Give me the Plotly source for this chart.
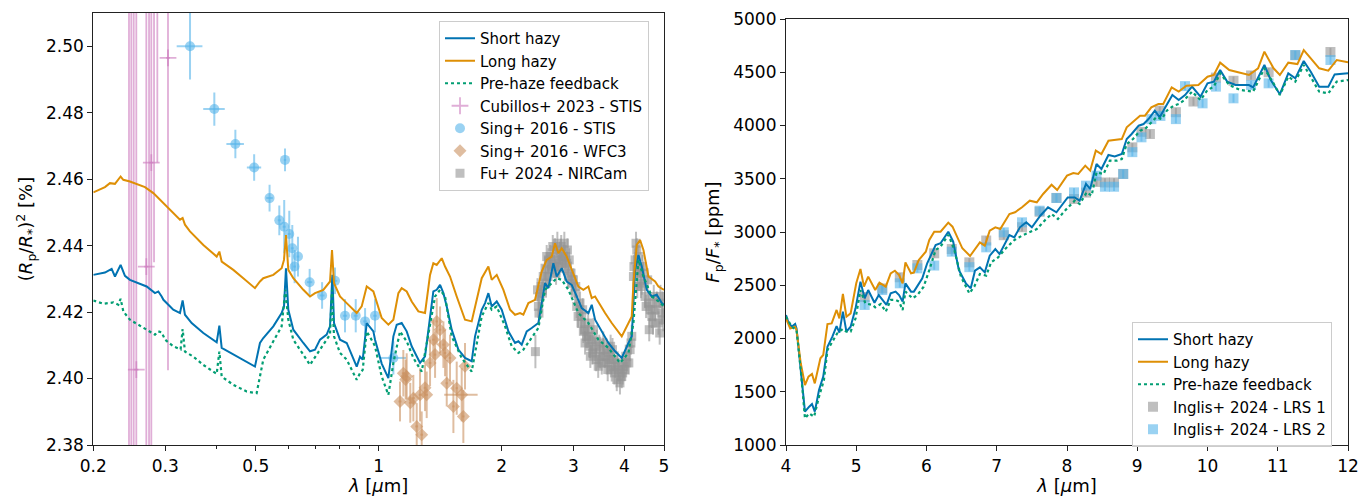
import plotly.graph_objects as go

# ---------------- Left panel: transmission ----------------
short_wl = [0.2000, 0.2136, 0.2218, 0.2260, 0.2333, 0.2391, 0.2459, 0.2702, 0.2832, 0.2886, 0.2941, 0.2970,
            0.3140, 0.3261, 0.3310, 0.3354, 0.3483, 0.3720, 0.4011, 0.4072, 0.4126, 0.4406, 0.4661, 0.4978,
            0.5120, 0.5217, 0.5520, 0.5786, 0.5863, 0.5929, 0.6008, 0.6180, 0.6539, 0.6790, 0.6984, 0.7184,
            0.7459, 0.7601, 0.7702, 0.7774, 0.8042, 0.8351, 0.8836, 0.9003, 0.9140, 0.9349, 0.9707, 0.9798,
            1.0173, 1.0563, 1.0866, 1.1072, 1.1388, 1.1714, 1.2049, 1.2630, 1.2990, 1.3362, 1.3614, 1.3876,
            1.4139, 1.4408, 1.4682, 1.5098, 1.5678, 1.6277, 1.6902, 1.7223, 1.7884, 1.8223, 1.8569, 1.8922,
            1.9464, 2.0020, 2.0788, 2.1583, 2.1992, 2.2409, 2.3050, 2.3709, 2.4617, 2.5083, 2.5559, 2.6044,
            2.6789, 2.7299, 2.8081, 2.8884, 2.9710, 3.0561, 3.1435, 3.2639, 3.3264, 3.3896, 3.5194, 3.6544,
            3.7945, 3.9399, 4.0911, 4.1689, 4.2478, 4.3286, 4.4107, 4.5370, 4.6666, 4.8004, 4.9379, 5.0]
short_td = [2.4312, 2.4319, 2.4330, 2.4307, 2.4342, 2.4309, 2.4297, 2.4277, 2.4257, 2.4262, 2.4247, 2.4237,
            2.4207, 2.4197, 2.4235, 2.4192, 2.4167, 2.4137, 2.4109, 2.4159, 2.4092, 2.4072, 2.4057, 2.4036,
            2.4107, 2.4122, 2.4157, 2.4197, 2.4217, 2.4332, 2.4207, 2.4147, 2.4107, 2.4082, 2.4087, 2.4117,
            2.4132, 2.4157, 2.4312, 2.4167, 2.4117, 2.4107, 2.4036, 2.4066, 2.4057, 2.4167, 2.4142, 2.4117,
            2.4045, 2.4001, 2.4127, 2.4162, 2.4167, 2.4142, 2.4097, 2.4047, 2.4067, 2.4187, 2.4262, 2.4267,
            2.4282, 2.4257, 2.4217, 2.4147, 2.4087, 2.4062, 2.4052, 2.4127, 2.4207, 2.4227, 2.4257, 2.4217,
            2.4232, 2.4207, 2.4142, 2.4107, 2.4112, 2.4102, 2.4142, 2.4152, 2.4167, 2.4227, 2.4287, 2.4272,
            2.4347, 2.4307, 2.4332, 2.4292, 2.4282, 2.4247, 2.4212, 2.4197, 2.4222, 2.4177, 2.4142, 2.4107,
            2.4082, 2.4062, 2.4107, 2.4127, 2.4327, 2.4372, 2.4337, 2.4267, 2.4247, 2.4252, 2.4227, 2.4222]

long_wl = [0.2000, 0.2077, 0.2136, 0.2197, 0.2260, 0.2333, 0.2369, 0.2459, 0.2677, 0.2806, 0.2913, 0.3082,
           0.3261, 0.3310, 0.3354, 0.3450, 0.3720, 0.4011, 0.4072, 0.4126, 0.4406, 0.4661, 0.4978, 0.5120,
           0.5217, 0.5520, 0.5786, 0.5863, 0.5929, 0.6008, 0.6180, 0.6539, 0.6790, 0.6984, 0.7320, 0.7601,
           0.7687, 0.7774, 0.8042, 0.8351, 0.8836, 0.9088, 0.9349, 0.9707, 1.0173, 1.0563, 1.0866, 1.1177,
           1.1388, 1.1714, 1.2049, 1.2512, 1.2990, 1.3362, 1.3614, 1.3876, 1.4273, 1.4544, 1.4957, 1.5531,
           1.6277, 1.6902, 1.7884, 1.8569, 1.8922, 1.9464, 2.0211, 2.0985, 2.1583, 2.2199, 2.2621, 2.3268,
           2.4158, 2.5083, 2.5800, 2.6538, 2.7044, 2.7557, 2.8081, 2.8884, 2.9710, 3.0849, 3.1732, 3.2639,
           3.3264, 3.3896, 3.5862, 3.7236, 3.9399, 4.0911, 4.1689, 4.2081, 4.2880, 4.3695, 4.4523, 4.5799,
           4.7555, 4.8459, 5.0]
long_td = [2.4560, 2.4570, 2.4576, 2.4588, 2.4586, 2.4608, 2.4598, 2.4593, 2.4576, 2.4558, 2.4538, 2.4508,
           2.4478, 2.4483, 2.4463, 2.4443, 2.4402, 2.4367, 2.4382, 2.4352, 2.4327, 2.4302, 2.4272, 2.4292,
           2.4302, 2.4312, 2.4332, 2.4357, 2.4432, 2.4327, 2.4302, 2.4267, 2.4247, 2.4257, 2.4267, 2.4292,
           2.4387, 2.4287, 2.4247, 2.4227, 2.4197, 2.4217, 2.4277, 2.4262, 2.4182, 2.4162, 2.4177, 2.4257,
           2.4272, 2.4262, 2.4232, 2.4202, 2.4197, 2.4312, 2.4347, 2.4342, 2.4362, 2.4337, 2.4307, 2.4247,
           2.4177, 2.4172, 2.4302, 2.4337, 2.4297, 2.4312, 2.4267, 2.4207, 2.4192, 2.4197, 2.4192, 2.4227,
           2.4237, 2.4322, 2.4357, 2.4367, 2.4407, 2.4377, 2.4392, 2.4367, 2.4327, 2.4277, 2.4267, 2.4277,
           2.4242, 2.4247, 2.4197, 2.4167, 2.4127, 2.4167, 2.4187, 2.4287, 2.4402, 2.4417, 2.4387, 2.4307,
           2.4292, 2.4277, 2.4267]

pre_wl = [0.2000, 0.2116, 0.2239, 0.2303, 0.2333, 0.2369, 0.2459, 0.2652, 0.2832, 0.2886, 0.2941, 0.2997,
          0.3140, 0.3273, 0.3310, 0.3354, 0.3516, 0.3720, 0.4011, 0.4072, 0.4126, 0.4406, 0.4750, 0.5025,
          0.5120, 0.5217, 0.5520, 0.5786, 0.5863, 0.5907, 0.6008, 0.6180, 0.6539, 0.6790, 0.7184, 0.7601,
          0.7687, 0.7774, 0.8042, 0.8351, 0.8836, 0.9003, 0.9140, 0.9349, 0.9707, 0.9798, 1.0173, 1.0563,
          1.0866, 1.1281, 1.1714, 1.2162, 1.2749, 1.3362, 1.3747, 1.4139, 1.4544, 1.5098, 1.5975, 1.6902,
          1.7884, 1.8569, 1.8922, 1.9464, 2.0401, 2.1183, 2.1992, 2.2621, 2.3709, 2.4617, 2.5559, 2.6538,
          2.7299, 2.8081, 2.9158, 3.0849, 3.2639, 3.4540, 3.6544, 3.9023, 4.0911, 4.2081, 4.3286, 4.4523,
          4.6666, 4.8459, 5.0]
pre_td = [2.4235, 2.4225, 2.4229, 2.4222, 2.4240, 2.4202, 2.4177, 2.4152, 2.4132, 2.4142, 2.4139, 2.4117,
          2.4097, 2.4088, 2.4149, 2.4081, 2.4066, 2.4041, 2.4014, 2.4081, 2.4006, 2.3981, 2.3961, 2.3956,
          2.4006, 2.4057, 2.4112, 2.4157, 2.4227, 2.4267, 2.4177, 2.4117, 2.4072, 2.4041, 2.4087, 2.4132,
          2.4267, 2.4127, 2.4077, 2.4057, 2.3996, 2.4016, 2.4026, 2.4142, 2.4107, 2.4097, 2.4006, 2.3951,
          2.4047, 2.4142, 2.4112, 2.4062, 2.4021, 2.4167, 2.4247, 2.4267, 2.4247, 2.4127, 2.4062, 2.4021,
          2.4187, 2.4227, 2.4207, 2.4217, 2.4157, 2.4097, 2.4077, 2.4087, 2.4122, 2.4152, 2.4267, 2.4287,
          2.4302, 2.4297, 2.4267, 2.4197, 2.4167, 2.4117, 2.4092, 2.4047, 2.4077, 2.4167, 2.4357, 2.4307,
          2.4247, 2.4232, 2.4217]

cub_wl = [0.2446, 0.2478, 0.2512, 0.2549, 0.2697, 0.2739, 0.2774, 0.2817, 0.2870, 0.3048]
cub_td = [2.55, 2.52, 2.56, 2.4027, 2.4337, 2.53, 2.4650, 2.53, 2.53, 2.4965]
cub_err = [0.20, 0.20, 0.20, 0.15, 0.12, 0.20, 0.12, 0.095, 0.065, 0.094]
cub_xerr = [0.003] * 10

sstis_wl = [0.3451, 0.3958, 0.4457, 0.4955, 0.5405, 0.5710, 0.5870, 0.5897, 0.6040, 0.6144, 0.6225,
            0.6344, 0.6776, 0.7269, 0.7819, 0.8271, 0.8788, 0.9263, 0.9796, 1.0866]
sstis_td = [2.5000, 2.4811, 2.4706, 2.4635, 2.4543, 2.4476, 2.4457, 2.4658, 2.4435, 2.4392, 2.4337,
            2.4367, 2.4290, 2.4250, 2.4294, 2.4189, 2.4189, 2.4172, 2.4189, 2.4062]
sstis_err = [0.010, 0.005, 0.0043, 0.004, 0.004, 0.0045, 0.008, 0.0034, 0.007, 0.007, 0.005,
             0.006, 0.004, 0.004, 0.004, 0.005, 0.005, 0.004, 0.005, 0.005]
sstis_xerr = [0.025, 0.024, 0.022, 0.020, 0.010, 0.005, 0.005, 0.004, 0.005, 0.005, 0.005,
              0.005, 0.010, 0.010, 0.010, 0.010, 0.010, 0.010, 0.010, 0.080]

swfc_wl = [1.1279, 1.1494, 1.1645, 1.1714, 1.1954, 1.2162, 1.2395, 1.2630, 1.2749, 1.2990, 1.3113,
           1.3362, 1.3614, 1.3747, 1.3876, 1.4139, 1.4408, 1.4544, 1.4682, 1.4957, 1.5244, 1.5531,
           1.5975, 1.6125, 1.6277]
swfc_td = [2.3931, 2.4016, 2.3997, 2.4006, 2.3927, 2.3941, 2.3856, 2.3951, 2.3831, 2.3972, 2.3951,
           2.4047, 2.4117, 2.4072, 2.4172, 2.4147, 2.4102, 2.4077, 2.3986, 2.4062, 2.3916, 2.3971,
           2.3951, 2.3886, 2.4037]
swfc_err = [0.006, 0.007, 0.006, 0.007, 0.006, 0.007, 0.007, 0.008, 0.007, 0.007, 0.007,
            0.007, 0.006, 0.007, 0.007, 0.007, 0.007, 0.007, 0.007, 0.007, 0.008, 0.008,
            0.008, 0.008, 0.007]
swfc_xerr = [0.01] * 22 + [0.15, 0.01, 0.01]

fu_wl = [2.421, 2.450, 2.462, 2.480, 2.530, 2.556, 2.600, 2.604, 2.630, 2.654, 2.704, 2.730, 2.756,
         2.782, 2.808, 2.834, 2.861, 2.888, 2.900, 2.916, 2.971, 3.028, 3.056, 3.114, 3.144, 3.173,
         3.200, 3.203, 3.264, 3.295, 3.300, 3.326, 3.390, 3.422, 3.450, 3.486, 3.550, 3.553, 3.620,
         3.654, 3.700, 3.724, 3.759, 3.800, 3.831, 3.867, 3.940, 3.977, 4.053, 4.130, 4.169, 4.208,
         4.248, 4.288, 4.300, 4.329, 4.370, 4.411, 4.450, 4.494, 4.580, 4.600, 4.667, 4.756, 4.846,
         4.900, 4.938, 4.980,
         2.47, 2.50, 2.52, 2.57, 2.58, 2.62, 2.67, 2.69, 2.72, 2.74, 2.77, 2.80, 2.85, 2.87, 2.93,
         2.96, 3.00, 3.04, 3.08, 3.13, 3.16, 3.23, 3.26, 3.34, 3.36, 3.41, 3.47, 3.52, 3.58, 3.64,
         3.68, 3.74, 3.78, 3.85, 3.90, 3.96, 4.00, 4.03, 4.10, 4.15, 4.22, 4.27, 4.32, 4.39, 4.43,
         4.52, 4.56, 4.63, 4.70, 4.72, 4.80, 4.88, 4.96]
fu_td = [2.4081, 2.4267, 2.4217, 2.4247, 2.4307, 2.4332, 2.4307, 2.4357, 2.4367, 2.4342, 2.4387, 2.4357,
         2.4337, 2.4377, 2.4357, 2.4367, 2.4332, 2.4347, 2.4387, 2.4307, 2.4287, 2.4257, 2.4217, 2.4227,
         2.4187, 2.4142, 2.4147, 2.4107, 2.4127, 2.4097, 2.4067, 2.4117, 2.4087, 2.4112, 2.4037, 2.4066,
         2.4107, 2.4087, 2.4047, 2.4077, 2.4097, 2.4026, 2.4057, 2.4037, 2.3997, 2.4026, 2.4006, 2.4036,
         2.4047, 2.4087, 2.4127, 2.4307, 2.4357, 2.4387, 2.4277, 2.4367, 2.4317, 2.4287, 2.4317, 2.4247,
         2.4227, 2.4147, 2.4187, 2.4207, 2.4167, 2.4247, 2.4197, 2.4177,
         2.4197, 2.4277, 2.4257, 2.4287, 2.4367, 2.4327, 2.4397, 2.4337, 2.4317, 2.4407, 2.4347, 2.4397,
         2.4407, 2.4367, 2.4357, 2.4317, 2.4297, 2.4277, 2.4187, 2.4167, 2.4207, 2.4127, 2.4167, 2.4077,
         2.4147, 2.4057, 2.4097, 2.4047, 2.4067, 2.4027, 2.4057, 2.4087, 2.4017, 2.4047, 2.3987, 2.4017,
         2.4027, 2.4067, 2.4047, 2.4107, 2.4337, 2.4407, 2.4327, 2.4277, 2.4337, 2.4217, 2.4297, 2.4207,
         2.4167, 2.4247, 2.4227, 2.4137, 2.4227]
fu_err = [0.005] + [0.0035] * 120

# ---------------- Right panel: emission ----------------
e_short_wl = [4.00, 4.03, 4.08, 4.13, 4.15, 4.21, 4.27, 4.33, 4.37, 4.41, 4.47, 4.53, 4.59, 4.66, 4.72,
              4.76, 4.81, 4.86, 4.92, 4.99, 5.06, 5.12, 5.17, 5.26, 5.32, 5.43, 5.49, 5.56, 5.61, 5.66,
              5.70, 5.78, 5.82, 5.94, 6.01, 6.13, 6.20, 6.31, 6.38, 6.46, 6.56, 6.63, 6.69, 6.76, 6.83,
              6.90, 6.98, 7.04, 7.10, 7.18, 7.25, 7.33, 7.42, 7.50, 7.62, 7.73, 7.85, 7.92, 8.01, 8.11,
              8.18, 8.27, 8.33, 8.42, 8.49, 8.59, 8.68, 8.78, 8.85, 8.92, 9.02, 9.09, 9.16, 9.25, 9.32,
              9.40, 9.50, 9.59, 9.68, 9.78, 9.90, 10.00, 10.09, 10.18, 10.28, 10.40, 10.59, 10.65, 10.81,
              10.90, 11.03, 11.15, 11.25, 11.37, 11.47, 11.59, 11.72, 11.81, 12.0]
e_short = [2221, 2158, 2111, 2136, 2095, 1736, 1313, 1360, 1385, 1313, 1516, 1642, 1923, 2017, 2117,
           2055, 2252, 2064, 2111, 2283, 2534, 2377, 2455, 2336, 2408, 2315, 2424, 2440, 2408, 2346,
           2518, 2440, 2440, 2565, 2706, 2878, 2894, 3003, 2909, 2643, 2518, 2471, 2637, 2668, 2621,
           2778, 2840, 2793, 2872, 2972, 2950, 3044, 3091, 3044, 3153, 3232, 3185, 3247, 3325, 3325,
           3294, 3451, 3404, 3638, 3592, 3723, 3710, 3732, 3873, 3920, 3998, 4014, 4061, 4139, 4077,
           4171, 4286, 4239, 4286, 4365, 4271, 4396, 4412, 4521, 4412, 4380, 4380, 4358, 4568,
           4427, 4293, 4490, 4443, 4606, 4505, 4365, 4365, 4480, 4490]

e_long_wl = [4.00, 4.06, 4.13, 4.15, 4.21, 4.27, 4.32, 4.37, 4.41, 4.49, 4.53, 4.59, 4.65, 4.72, 4.76,
             4.81, 4.86, 4.92, 5.00, 5.06, 5.11, 5.17, 5.27, 5.33, 5.42, 5.49, 5.55, 5.61, 5.66, 5.70,
             5.78, 5.82, 5.89, 5.99, 6.04, 6.11, 6.20, 6.31, 6.37, 6.44, 6.51, 6.62, 6.68, 6.76, 6.83,
             6.90, 6.98, 7.05, 7.18, 7.26, 7.36, 7.47, 7.57, 7.66, 7.78, 7.86, 8.00, 8.09, 8.16, 8.26,
             8.33, 8.41, 8.49, 8.59, 8.67, 8.78, 8.85, 8.94, 9.04, 9.11, 9.20, 9.30, 9.37, 9.49, 9.59,
             9.70, 9.87, 10.00, 10.09, 10.18, 10.31, 10.59, 10.72, 10.81, 10.94, 11.03, 11.15, 11.28,
             11.37, 11.47, 11.59, 11.72, 11.84, 12.0]
e_long = [2189, 2095, 2111, 2080, 1767, 1563, 1642, 1667, 1579, 1814, 1845, 2136, 2142, 2268, 2189,
          2418, 2205, 2236, 2518, 2653, 2487, 2581, 2455, 2524, 2487, 2612, 2637, 2596, 2518, 2715,
          2612, 2618, 2737, 2815, 2925, 3003, 3003, 3088, 3050, 2941, 2847, 2775, 2831, 2903, 2872,
          3012, 3044, 3028, 3169, 3185, 3232, 3294, 3279, 3357, 3444, 3394, 3529, 3554, 3545, 3623,
          3576, 3764, 3732, 3857, 3864, 3873, 3983, 4036, 4092, 4092, 4171, 4202, 4202, 4358, 4318,
          4374, 4380, 4458, 4474, 4590, 4521, 4474, 4537, 4693, 4537, 4474, 4590, 4577,
          4709, 4631, 4537, 4515, 4615, 4593]

e_pre_wl = [4.00, 4.08, 4.15, 4.21, 4.27, 4.33, 4.40, 4.47, 4.54, 4.59, 4.66, 4.73, 4.81, 4.86, 4.92,
            4.99, 5.06, 5.13, 5.23, 5.27, 5.35, 5.42, 5.49, 5.56, 5.61, 5.66, 5.70, 5.80, 5.87, 5.96,
            6.04, 6.13, 6.20, 6.31, 6.39, 6.49, 6.61, 6.68, 6.76, 6.85, 6.92, 7.02, 7.12, 7.24, 7.36,
            7.47, 7.57, 7.68, 7.78, 7.87, 7.97, 8.11, 8.18, 8.28, 8.35, 8.42, 8.52, 8.61, 8.71, 8.78,
            8.85, 8.94, 9.04, 9.11, 9.18, 9.27, 9.35, 9.42, 9.52, 9.59, 9.66, 9.78, 9.90, 10.00, 10.09,
            10.18, 10.31, 10.47, 10.65, 10.81, 10.94, 11.03, 11.15, 11.25, 11.37, 11.47, 11.59, 11.72,
            11.84, 12.0]
e_pre = [2205, 2111, 2080, 1704, 1250, 1297, 1266, 1454, 1610, 1892, 1970, 2049, 2090, 2064, 2064,
         2189, 2455, 2330, 2315, 2293, 2324, 2252, 2362, 2362, 2346, 2268, 2440, 2377, 2408, 2487,
         2643, 2831, 2862, 2972, 2847, 2581, 2424, 2487, 2606, 2590, 2715, 2762, 2840, 2919, 2966,
         2997, 3028, 3106, 3169, 3122, 3200, 3294, 3263, 3372, 3341, 3560, 3545, 3670, 3670, 3685,
         3826, 3873, 3951, 3967, 4014, 4077, 4061, 4139, 4186, 4202, 4233, 4318, 4239, 4333, 4365,
         4490, 4380, 4333, 4318, 4537, 4396, 4286, 4458, 4412, 4568, 4458, 4318, 4302,
         4412, 4427]

lrs1_wl = [5.12, 5.37, 5.62, 5.87, 6.11, 6.36, 6.61, 6.85, 7.10, 7.36, 7.61, 7.85, 8.10, 8.27, 8.42,
           8.54, 8.67, 8.80, 8.93, 9.06, 9.18, 9.32, 9.55, 9.80, 10.12, 10.37, 10.62, 10.87, 11.25, 11.75]
lrs1_fp = [2390, 2470, 2575, 2690, 2800, 2840, 2715, 2920, 2970, 3045, 3190, 3320, 3310, 3370, 3470,
           3465, 3465, 3545, 3795, 3940, 3920, 4140, 4125, 4225, 4450, 4420, 4470, 4500, 4660, 4690]
lrs1_err = [40] * 30

lrs2_wl = [5.12, 5.37, 5.62, 5.87, 6.11, 6.36, 6.61, 6.85, 7.10, 7.36, 7.61, 7.85, 8.10, 8.27, 8.42,
           8.54, 8.67, 8.80, 8.93, 9.06, 9.20, 9.33, 9.55, 9.68, 9.93, 10.12, 10.37, 10.62, 10.87,
           11.25, 11.75]
lrs2_fp = [2315, 2455, 2518, 2659, 2685, 2815, 2670, 2856, 2997, 3091, 3200, 3319, 3372, 3435, 3529,
           3425, 3425, 3545, 3750, 3889, 4060, 4090, 4060, 4370, 4208, 4365, 4255, 4380, 4396,
           4662, 4615]
lrs2_err = [40] * 31

C_BLUE = '#0173B2'
C_ORANGE = '#DE8F05'
C_GREEN = '#029E73'
C_PINK = 'rgba(204,120,188,0.6)'
C_LBLUE = 'rgba(86,180,233,0.6)'
C_BROWN = 'rgba(202,145,97,0.6)'
C_GRAY = 'rgba(148,148,148,0.6)'

fig = go.Figure()

# data (left)
fig.add_trace(go.Scatter(x=cub_wl, y=cub_td, mode='markers', name='Cubillos+ 2023 - STIS',
                         marker=dict(symbol='cross-thin', size=12, line=dict(color=C_PINK, width=1.8), color=C_PINK),
                         error_y=dict(type='data', array=cub_err, color=C_PINK, thickness=1.8, width=0),
                         error_x=dict(type='data', array=cub_xerr, color=C_PINK, thickness=1.8, width=0),
                         xaxis='x', yaxis='y', legend='legend', legendrank=4))
fig.add_trace(go.Scatter(x=sstis_wl, y=sstis_td, mode='markers', name='Sing+ 2016 - STIS',
                         marker=dict(symbol='circle', size=10, color=C_LBLUE, line=dict(width=0)),
                         error_y=dict(type='data', array=sstis_err, color=C_LBLUE, thickness=2, width=0),
                         error_x=dict(type='data', array=sstis_xerr, color=C_LBLUE, thickness=2, width=0),
                         xaxis='x', yaxis='y', legend='legend', legendrank=5))
fig.add_trace(go.Scatter(x=swfc_wl, y=swfc_td, mode='markers', name='Sing+ 2016 - WFC3',
                         marker=dict(symbol='diamond', size=10, color=C_BROWN, line=dict(width=0)),
                         error_y=dict(type='data', array=swfc_err, color=C_BROWN, thickness=2, width=0),
                         error_x=dict(type='data', array=swfc_xerr, color=C_BROWN, thickness=2, width=0),
                         xaxis='x', yaxis='y', legend='legend', legendrank=6))
fig.add_trace(go.Scatter(x=fu_wl, y=fu_td, mode='markers', name='Fu+ 2024 - NIRCam',
                         marker=dict(symbol='square', size=9, color=C_GRAY, line=dict(width=0)),
                         error_y=dict(type='data', array=fu_err, color=C_GRAY, thickness=2, width=0),
                         xaxis='x', yaxis='y', legend='legend', legendrank=7))
# models (left)
fig.add_trace(go.Scatter(x=short_wl, y=short_td, mode='lines', name='Short hazy',
                         line=dict(color=C_BLUE, width=2), xaxis='x', yaxis='y', legend='legend', legendrank=1))
fig.add_trace(go.Scatter(x=long_wl, y=long_td, mode='lines', name='Long hazy',
                         line=dict(color=C_ORANGE, width=2), xaxis='x', yaxis='y', legend='legend', legendrank=2))
fig.add_trace(go.Scatter(x=pre_wl, y=pre_td, mode='lines', name='Pre-haze feedback',
                         line=dict(color=C_GREEN, width=2.2, dash='dot'), xaxis='x', yaxis='y',
                         legend='legend', legendrank=3))

# data (right)
fig.add_trace(go.Scatter(x=lrs1_wl, y=lrs1_fp, mode='markers', name='Inglis+ 2024 - LRS 1',
                         marker=dict(symbol='square', size=10, color=C_GRAY, line=dict(width=0)),
                         error_y=dict(type='data', array=lrs1_err, color=C_GRAY, thickness=2, width=0),
                         xaxis='x2', yaxis='y2', legend='legend2', legendrank=4))
fig.add_trace(go.Scatter(x=lrs2_wl, y=lrs2_fp, mode='markers', name='Inglis+ 2024 - LRS 2',
                         marker=dict(symbol='square', size=10, color=C_LBLUE, line=dict(width=0)),
                         error_y=dict(type='data', array=lrs2_err, color=C_LBLUE, thickness=2, width=0),
                         xaxis='x2', yaxis='y2', legend='legend2', legendrank=5))
fig.add_trace(go.Scatter(x=e_short_wl, y=e_short, mode='lines', name='Short hazy',
                         line=dict(color=C_BLUE, width=2), xaxis='x2', yaxis='y2', legend='legend2', legendrank=1))
fig.add_trace(go.Scatter(x=e_long_wl, y=e_long, mode='lines', name='Long hazy',
                         line=dict(color=C_ORANGE, width=2), xaxis='x2', yaxis='y2', legend='legend2', legendrank=2))
fig.add_trace(go.Scatter(x=e_pre_wl, y=e_pre, mode='lines', name='Pre-haze feedback',
                         line=dict(color=C_GREEN, width=2.2, dash='dot'), xaxis='x2', yaxis='y2',
                         legend='legend2', legendrank=3))

FONT = 'DejaVu Sans'
TICKF = dict(family=FONT, size=17, color='black')
TITLEF = dict(family=FONT, size=18, color='black')
axis_common = dict(showgrid=False, zeroline=False, showline=True, linecolor='#222', linewidth=1.2,
                   mirror=True, ticks='outside', ticklen=5, tickwidth=1.2, tickcolor='#222',
                   tickfont=TICKF, automargin=False)

W, H = 1370, 497
fig.update_layout(
    width=W, height=H, autosize=False,
    margin=dict(l=0, r=0, t=0, b=0, pad=0),
    paper_bgcolor='white', plot_bgcolor='white',
    font=dict(family=FONT, color='black'),
    xaxis=dict(type='log', range=[-0.69897, 0.69897],
               domain=[93.3 / W, 664 / W], anchor='y',
               tickvals=[0.2, 0.3, 0.5, 1, 2, 3, 4, 5], ticktext=['0.2', '0.3', '0.5', '1', '2', '3', '4', '5'],
               minor=dict(tickvals=[0.4, 0.6, 0.7, 0.8, 0.9], ticks='outside', ticklen=3, tickwidth=1, tickcolor='#222'),
               title=dict(text='<i>λ</i> [<i>μ</i>m]', font=TITLEF, standoff=4),
               **axis_common),
    yaxis=dict(range=[2.38, 2.51], domain=[(H - 445) / H, (H - 13) / H], anchor='x',
               tickvals=[2.38, 2.40, 2.42, 2.44, 2.46, 2.48, 2.50], tickformat='.2f',
               title=dict(text='(<i>R</i><sub>p</sub>/<i>R</i><sub>*</sub>)<sup>2</sup> [%]', font=TITLEF, standoff=8),
               **axis_common),
    xaxis2=dict(range=[4, 12], domain=[786 / W, 1348 / W], anchor='y2',
                tickvals=list(range(4, 13)),
                title=dict(text='<i>λ</i> [<i>μ</i>m]', font=TITLEF, standoff=4),
                **axis_common),
    yaxis2=dict(range=[1000, 5000], domain=[(H - 445) / H, (H - 19) / H], anchor='x2',
                tickvals=list(range(1000, 5001, 500)),
                title=dict(text='<i>F</i><sub>p</sub>/<i>F</i><sub>*</sub> [ppm]', font=TITLEF, standoff=8),
                **axis_common),
    legend=dict(x=439 / W, y=1 - 21 / H, xanchor='left', yanchor='top',
                bgcolor='rgba(255,255,255,0.8)', bordercolor='#cccccc', borderwidth=1,
                font=dict(family=FONT, size=15, color='black'), tracegroupgap=0, itemwidth=30),
    legend2=dict(x=1132 / W, y=1 - 322 / H, xanchor='left', yanchor='top',
                 bgcolor='rgba(255,255,255,0.8)', bordercolor='#cccccc', borderwidth=1,
                 font=dict(family=FONT, size=15, color='black'), tracegroupgap=0, itemwidth=30),
)

fig.write_html('out.html', config={'displayModeBar': False},
               post_script="document.body.style.margin='0px';")
